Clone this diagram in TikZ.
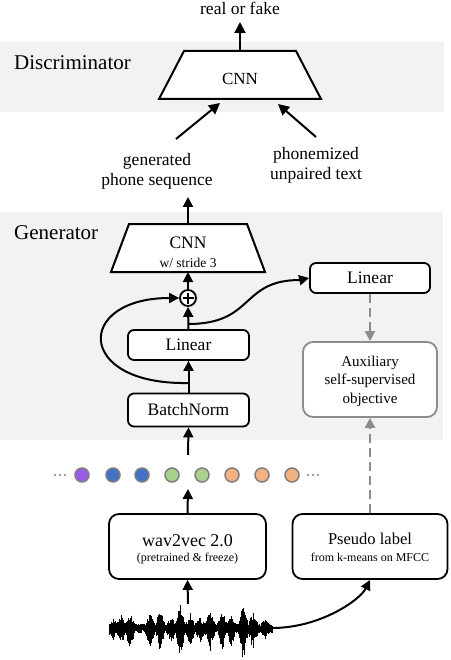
\documentclass[tikz,border=0pt]{standalone}
\usepackage{fontspec}
\setmainfont{Liberation Serif}
\usetikzlibrary{arrows.meta}
\definecolor{bandgray}{HTML}{F2F2F2}
\definecolor{dotborder}{HTML}{7F7F7F}
\definecolor{cpurple}{HTML}{9B5BE6}
\definecolor{cblue}{HTML}{4472C4}
\definecolor{cgreen}{HTML}{A9D18E}
\definecolor{corange}{HTML}{F4B183}
\definecolor{auxgray}{HTML}{8C8C8C}
\newcommand\fsz[2]{\fontsize{#1}{#2}\selectfont}
\begin{document}
\begin{tikzpicture}[x=1pt,y=-1pt,
  arr/.style={line width=2pt,-{Triangle[length=10pt,width=10pt]}},
  bigarr/.style={line width=2pt,-{Triangle[length=11pt,width=11pt]}},
  gdash/.style={line width=2pt,draw=auxgray,dash pattern=on 9pt off 5pt,-{Triangle[length=10pt,width=10pt]},auxgray},
  box/.style={draw,line width=1.8pt,rounded corners=6pt,fill=white,inner sep=0pt},
  bigbox/.style={draw,line width=1.8pt,rounded corners=10pt,fill=white,inner sep=0pt},
  trap/.style={draw,line width=2pt,fill=white,line join=miter},
  txt/.style={inner sep=0pt,align=center},
  dotc/.style={circle,draw=dotborder,line width=1.5pt,minimum size=14pt,inner sep=0pt}
]
\useasboundingbox (0,0) rectangle (450,660);

% bands
\fill[bandgray] (0,42) rectangle (444,112);
\fill[bandgray] (0,212) rectangle (443,440);

\node[txt,anchor=west,font=\fsz{21}{24}] (dlab) at (14,63) {Discriminator};
\node[txt,anchor=west,font=\fsz{21}{24}] (glab) at (14,233) {Generator};

% discriminator
\draw[trap] (184,51) -- (296,51) -- (321,99) -- (159,99) -- cycle;
\node[txt,font=\fsz{17}{19}] (dcnn) at (240,79) {CNN};
\coordinate (dtop) at (240,51);
\node[txt,font=\fsz{17.5}{20}] (rf) at (240,8) {real or fake};
\coordinate (rfbot) at (240,22);
\draw[bigarr] (dtop) -- (rfbot);

\coordinate (gpsfrom) at (176,139);
\coordinate (dinl) at (220,103);
\coordinate (ptfrom) at (316,137);
\coordinate (dinr) at (278,104);
\draw[bigarr] (gpsfrom) -- (dinl);
\draw[bigarr] (ptfrom) -- (dinr);

\node[txt,font=\fsz{17.5}{20}] (gps) at (157,171) {generated\\phone sequence};
\node[txt,font=\fsz{17.5}{20}] (ptxt) at (316,165) {phonemized\\unpaired text};

% generator CNN
\draw[trap] (129,224) -- (247,224) -- (265,272) -- (111,272) -- cycle;
\node[txt,font=\fsz{17.5}{19}] (gcnn) at (188,243) {CNN};
\node[txt,font=\fsz{13.5}{15}] (gstride) at (188,263) {w/ stride 3};
\coordinate (gcnntop) at (188,224);
\coordinate (gcnnbot) at (188,272);
\coordinate (gout) at (188,197);
\draw[arr] (gcnntop) -- (gout);

% plus
\node[circle,draw,line width=1.8pt,minimum size=16pt,inner sep=0pt,fill=white] (plus) at (188,298) {};
\draw[line width=1.6pt] ([xshift=-5.5pt]plus.center) -- ([xshift=5.5pt]plus.center);
\draw[line width=1.6pt] ([yshift=-5.5pt]plus.center) -- ([yshift=5.5pt]plus.center);
\draw[arr] (plus.north) -- (gcnnbot);

% linear (lower)
\node[box,minimum width=121pt,minimum height=30pt,font=\fsz{17.5}{20}] (lin1) at (188.5,345) {Linear};
\draw[arr] (lin1.north) -- (plus.south);
\coordinate (j1) at (188,324);

% right linear
\node[box,minimum width=120pt,minimum height=30pt,font=\fsz{17.5}{20}] (lin2) at (370,278) {Linear};
\draw[arr] (j1) .. controls (255,324) and (240,280) .. (300,280) -- (lin2.west);

% batchnorm
\node[box,minimum width=121pt,minimum height=33pt,font=\fsz{17.5}{20}] (bn) at (188.5,410) {BatchNorm};
\draw[arr] (bn.north) -- (lin1.south);
\coordinate (j2) at (188,383);
\draw[arr] (j2) .. controls (75,385) and (75,298) .. (plus.west);

% auxiliary
\node[bigbox,draw=auxgray,minimum width=134pt,minimum height=75pt] (aux) at (370,379.5) {};
\node[txt,font=\fsz{15}{18.5}] (auxt) at (370,381) {Auxiliary\\self-supervised\\objective};
\draw[gdash] (lin2.south) -- (aux.north);

% dots
\foreach \ex in {55,60,65,308,313,318} \fill[dotborder] (\ex,475) circle (1.1pt);
\node[dotc,fill=cpurple] (d1) at (82,475) {};
\node[dotc,fill=cblue] (d2) at (113,475) {};
\node[dotc,fill=cblue] (d3) at (142,475) {};
\node[dotc,fill=cgreen] (d4) at (172,475) {};
\node[dotc,fill=cgreen] (d5) at (202,475) {};
\node[dotc,fill=corange] (d6) at (232,475) {};
\node[dotc,fill=corange] (d7) at (262,475) {};
\node[dotc,fill=corange] (d8) at (292,475) {};
\coordinate (dotsup) at (188,455);
\coordinate (dotsbot) at (188,489);
\draw[arr] (dotsup) -- (bn.south);

% wav2vec
\node[bigbox,minimum width=157pt,minimum height=65pt] (w2v) at (187.5,546.5) {};
\node[txt,font=\fsz{18}{20}] (w2vt) at (187.5,541) {wav2vec 2.0};
\node[txt,font=\fsz{12}{14}] (w2vs) at (187.5,559) {(pretrained \& freeze)};
\draw[arr] (w2v.north) -- (dotsbot);

% pseudo label
\node[bigbox,minimum width=155pt,minimum height=65pt] (pl) at (370,546.5) {};
\node[txt,font=\fsz{16.5}{18}] (plt) at (370,539) {Pseudo label};
\node[txt,font=\fsz{12}{14}] (pls) at (370,557) {from k-means on MFCC};
\draw[gdash] (pl.north) -- (aux.south);

% waveform
\pgfmathsetseed{11}
\foreach \i in {0,...,326} {
  \pgfmathsetmacro\xx{109+\i*0.5}
  \pgfmathsetmacro\env{4.5
    + 6*max(0,1-abs(\xx-113)/5)
    + 11*max(0,1-abs(\xx-121)/5)
    + 14*max(0,1-abs(\xx-130)/5)
    + 14*max(0,1-abs(\xx-150)/5)
    + 16*max(0,1-abs(\xx-160)/5)
    + 9*max(0,1-abs(\xx-171)/5)
    + 24*max(0,1-abs(\xx-180)/5)
    + 13*max(0,1-abs(\xx-190)/5)
    + 8*max(0,1-abs(\xx-200)/5)
    + 16*max(0,1-abs(\xx-210)/5)
    + 15*max(0,1-abs(\xx-222)/5)
    + 12*max(0,1-abs(\xx-231)/5)
    + 25*max(0,1-abs(\xx-243)/5)
    + 14*max(0,1-abs(\xx-253)/5)
    + 6*max(0,1-abs(\xx-265)/5)}
  \pgfmathsetmacro\up{\env*(0.4+0.5*rnd)}
  \pgfmathsetmacro\dn{\env*(0.5+0.7*rnd)}
  \draw[line width=0.6pt] (\xx,628-\up) -- (\xx,628+\dn);
}
\coordinate (wavetop) at (188,604);
\coordinate (waveend) at (272,628);
\draw[arr] (wavetop) -- (w2v.south);
\draw[arr] (waveend) .. controls (320,628) and (360,600) .. (pl.south);

\end{tikzpicture}
\end{document}
